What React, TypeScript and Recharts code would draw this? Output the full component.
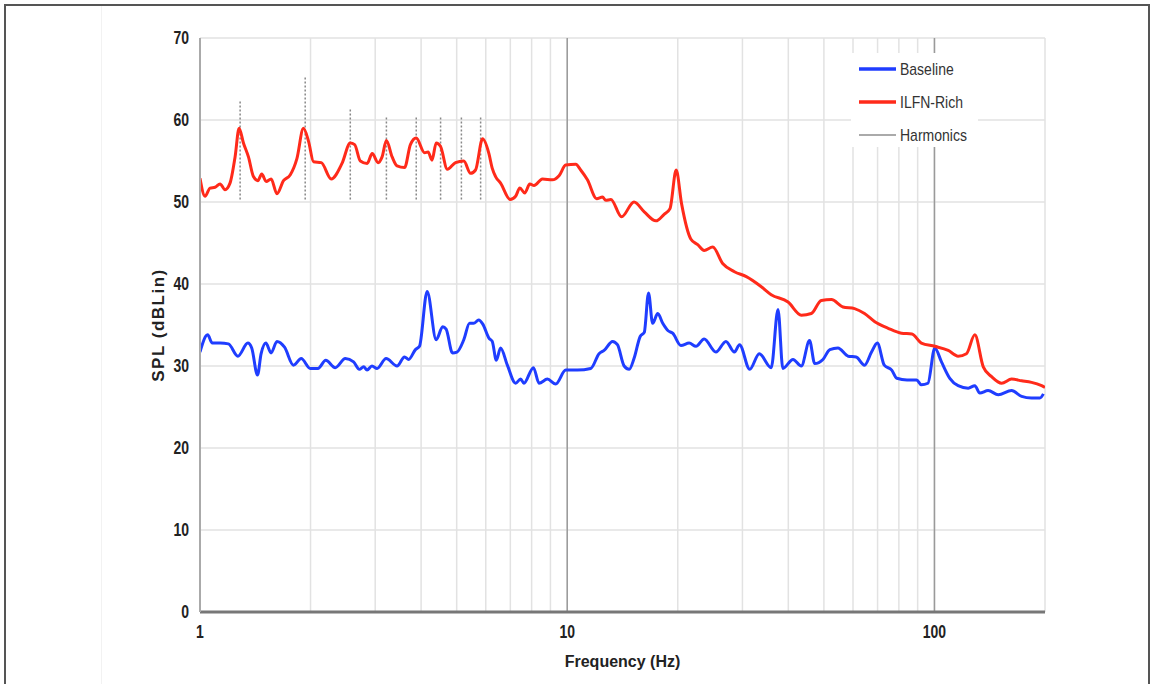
import {
  LineChart,
  Line,
  XAxis,
  YAxis,
  CartesianGrid,
  ReferenceLine,
} from 'recharts';

// Baseline (blue) spectrum
const baselineFreq = [
  1.0, 1.049, 1.08, 1.134, 1.195, 1.268, 1.35, 1.383, 1.434, 1.467,
  1.511, 1.562, 1.62, 1.699, 1.797, 1.886, 1.996, 2.095, 2.2, 2.335,
  2.487, 2.62, 2.716, 2.79, 2.85, 2.94, 3.035, 3.212, 3.44, 3.606,
  3.7, 3.861, 3.96, 4.155, 4.397, 4.58, 4.68, 4.87, 5.01, 5.228,
  5.42, 5.56, 5.74, 5.89, 6.12, 6.25, 6.41, 6.585, 6.87, 7.235,
  7.466, 7.62, 8.09, 8.38, 8.83, 9.303, 9.906, 10.66, 11.59, 12.21,
  12.6, 13.29, 13.7, 14.29, 14.75, 15.2, 15.8, 16.21, 16.65, 17.08,
  17.64, 18.2, 18.82, 19.37, 20.4, 21.48, 22.42, 23.6, 25.4, 27.05,
  28.53, 29.46, 31.4, 33.34, 35.93, 37.5, 38.65, 41.2, 43.4, 45.7,
  47.2, 49.7, 51.9, 54.6, 58.2, 61.2, 64.5, 67.4, 69.9, 73.0,
  76.5, 79.0, 84.2, 89.4, 92.1, 96.0, 100.2, 104.5, 110.1, 116,
  123.6, 128.8, 132.9, 140, 149.2, 162.2, 172.7, 183.8, 193.7, 198,
];
const baselineSpl = [
  31.7, 33.8, 32.8, 32.8, 32.7, 31.2, 32.8, 32.2, 28.9, 31.5,
  32.8, 31.6, 33.0, 32.3, 30.1, 30.9, 29.7, 29.7, 30.7, 29.8,
  30.9, 30.5, 29.6, 29.9, 29.5, 30.0, 29.7, 30.9, 30.0, 31.1,
  30.8, 32.0, 32.4, 39.1, 33.2, 34.8, 34.5, 31.6, 31.7, 33.2,
  35.2, 35.2, 35.6, 35.1, 33.4, 33.0, 30.7, 32.2, 30.1, 27.9,
  28.4, 27.9, 29.8, 27.9, 28.4, 27.8, 29.5, 29.5, 29.7, 31.5,
  31.9, 33.0, 32.6, 30.0, 29.6, 30.9, 33.6, 34.1, 38.9, 35.2,
  36.4, 35.2, 34.3, 34.0, 32.5, 32.8, 32.4, 33.3, 31.7, 33.0,
  31.7, 32.6, 29.6, 31.5, 29.8, 36.9, 29.7, 30.8, 30.0, 33.1,
  30.3, 30.8, 32.0, 32.2, 31.2, 31.1, 30.1, 31.7, 32.8, 30.1,
  29.5, 28.5, 28.3, 28.3, 27.7, 27.9, 32.2, 30.5, 28.5, 27.6,
  27.3, 27.6, 26.7, 27.0, 26.5, 27.0, 26.3, 26.1, 26.1, 26.6,
];

// ILFN-Rich (red) spectrum
const ilfnFreq = [
  1.0, 1.032, 1.065, 1.099, 1.134, 1.17, 1.207, 1.246, 1.278, 1.313,
  1.355, 1.398, 1.437, 1.473, 1.514, 1.562, 1.62, 1.688, 1.76, 1.836,
  1.913, 1.975, 2.038, 2.139, 2.277, 2.436, 2.566, 2.637, 2.733, 2.852,
  2.944, 3.055, 3.132, 3.218, 3.336, 3.44, 3.606, 3.741, 3.879, 4.09,
  4.18, 4.284, 4.397, 4.517, 4.715, 4.964, 5.228, 5.454, 5.628, 5.88,
  6.12, 6.25, 6.381, 6.585, 6.99, 7.235, 7.43, 7.66, 7.91, 8.12,
  8.56, 9.11, 9.5, 9.906, 10.55, 10.88, 11.35, 12.03, 12.48, 12.73,
  13.15, 14.06, 15.2, 16.21, 17.44, 18.36, 19.05, 19.8, 20.48, 21.7,
  22.66, 23.6, 24.9, 26.5, 28.53, 30.74, 33.7, 35.93, 39.93, 43.4,
  46.2, 49.2, 52.4, 56.35, 60.6, 64.5, 68.8, 74.8, 81.3, 86.8,
  92.1, 100.2, 109, 116, 122.2, 128.8, 135.8, 143.1, 152.4, 162.2,
  172.7, 183.8, 195.8, 200,
];
const ilfnSpl = [
  52.9, 50.7, 51.7, 51.8, 52.2, 51.5, 52.3, 55.5, 59.0, 57.2,
  55.5, 53.1, 52.6, 53.4, 52.5, 52.8, 51.0, 52.6, 53.3, 55.3,
  59.0, 57.4, 54.9, 54.8, 52.8, 54.7, 57.2, 57.0, 55.0, 54.7,
  55.9, 54.8, 55.5, 57.5, 55.5, 54.4, 54.2, 57.0, 57.8, 56.0,
  56.1, 55.1, 57.2, 56.8, 54.0, 54.8, 55.0, 53.5, 53.9, 57.7,
  55.9, 54.1, 53.1, 52.3, 50.3, 50.7, 51.7, 51.1, 52.2, 52.0,
  52.8, 52.7, 53.2, 54.5, 54.6, 53.9, 52.7, 50.4, 50.6, 50.2,
  50.3, 48.2, 50.0, 48.8, 47.7, 48.5, 49.2, 53.9, 49.8, 45.5,
  44.8, 44.1, 44.5, 42.5, 41.5, 40.9, 39.7, 38.7, 37.8, 36.2,
  36.4, 38.0, 38.1, 37.2, 37.0, 36.4, 35.4, 34.6, 34.0, 33.9,
  32.8, 32.4, 31.9, 31.2, 31.5, 33.8, 29.9, 28.7, 27.9, 28.4,
  28.2, 28.0, 27.6, 27.4,
];

// harmonic markers
const harmonicFreq = [1.286, 1.934, 2.566, 3.218, 3.88, 4.52, 5.15, 5.81];
const harmonicTop = [62.3, 65.4, 61.4, 60.3, 60.3, 60.3, 60.3, 60.3];
const harmonicBase = 50.3;

const xTicks = [
  1, 2, 3, 4, 5, 6, 7, 8, 9, 10, 20, 30, 40, 50, 60, 70, 80, 90, 100, 200,
];
const xLabels = [1, 10, 100];
const yTicks = [0, 10, 20, 30, 40, 50, 60, 70];

const BLUE = '#1f3dff';
const RED = '#ff2a1a';
const HARM = '#888';

const legendItems = [
  { name: 'Baseline', color: BLUE, width: 3.5 },
  { name: 'ILFN-Rich', color: RED, width: 3.5 },
  { name: 'Harmonics', color: '#aaa', width: 2 },
];

const baselineData = baselineFreq.map((f, i) => ({ f, spl: baselineSpl[i] }));
const ilfnData = ilfnFreq.map((f, i) => ({ f, spl: ilfnSpl[i] }));

const FONT = '"Liberation Sans", Arial, Helvetica, sans-serif';

// tick text is drawn a bit taller than wide, like the source image
function XTick({ x, y, payload }: any) {
  const v = payload.value;
  if (!xLabels.includes(v)) return null;
  return (
    <g transform={`translate(${x},${y + 6}) scale(1,1.25)`}>
      <text textAnchor="middle" dy="0.71em" fill="#222" fontSize={14} fontWeight={700} fontFamily={FONT}>
        {v}
      </text>
    </g>
  );
}

function YTick({ x, y, payload }: any) {
  return (
    <g transform={`translate(${x},${y}) scale(1,1.25)`}>
      <text textAnchor="end" dy="0.355em" fill="#222" fontSize={14} fontWeight={700} fontFamily={FONT}>
        {payload.value}
      </text>
    </g>
  );
}

function ChartLegend() {
  return (
    <div
      style={{
        position: 'absolute',
        left: 851,
        top: 53,
        background: '#fff',
        width: 127,
        height: 94,
        fontFamily: FONT,
        fontSize: 14,
        color: '#333',
      }}
    >
      {legendItems.map((it, i) => (
        <div
          key={it.name}
          style={{
            position: 'absolute',
            left: 8,
            top: 16 + i * 33 - 9,
            height: 18,
            display: 'flex',
            alignItems: 'center',
            whiteSpace: 'nowrap',
          }}
        >
          <svg width={37} height={6}>
            <line x1={0} y1={3} x2={37} y2={3} stroke={it.color} strokeWidth={it.width} />
          </svg>
          <span style={{ marginLeft: 4, display: 'inline-block', transform: 'scaleY(1.15)' }}>
            {it.name}
          </span>
        </div>
      ))}
    </div>
  );
}

export default function App() {
  return (
    <div
      style={{
        position: 'absolute',
        left: 0,
        top: 0,
        width: 1155,
        height: 684,
        overflow: 'hidden',
        background: '#fff',
      }}
    >
      <div
        style={{
          position: 'absolute',
          left: 4,
          top: 4,
          width: 1142,
          height: 720,
          border: '2px solid #555',
        }}
      />
      <div
        style={{
          position: 'absolute',
          left: 101,
          top: 6,
          width: 1,
          height: 680,
          background: '#f2f2f2',
        }}
      />
      <div style={{ position: 'absolute', left: 0, top: 0 }}>
        <LineChart
          width={1155}
          height={684}
          margin={{ top: 38, right: 110, bottom: 40, left: 130 }}
        >
          <CartesianGrid stroke="#e2e2e2" strokeWidth={1.5} />
          <XAxis
            dataKey="f"
            type="number"
            scale="log"
            domain={[1, 200]}
            allowDataOverflow
            ticks={xTicks}
            interval={0}
            tick={<XTick />}
            tickLine={false}
            height={32}
            axisLine={{ stroke: '#777', strokeWidth: 3 }}
            label={{
              value: 'Frequency (Hz)',
              position: 'bottom',
              offset: 12,
              style: { fill: '#222', fontSize: 16, fontWeight: 700, fontFamily: FONT },
            }}
          />
          <YAxis
            type="number"
            domain={[0, 70]}
            ticks={yTicks}
            interval={0}
            width={70}
            tickLine={false}
            tickMargin={5}
            axisLine={{ stroke: '#aaa', strokeWidth: 2 }}
            tick={<YTick />}
            label={{
              value: 'SPL (dBLin)',
              angle: -90,
              position: 'center',
              dx: -7,
              style: {
                fill: '#222',
                fontSize: 17,
                fontWeight: 700,
                fontFamily: FONT,
                letterSpacing: 1.5,
              },
            }}
          />
          <ReferenceLine x={10} stroke="#9a9a9a" strokeWidth={1.5} />
          <ReferenceLine x={100} stroke="#9a9a9a" strokeWidth={1.5} />
          {harmonicFreq.map((f, i) => (
            <ReferenceLine
              key={'h' + i}
              segment={[
                { x: f, y: harmonicBase },
                { x: f, y: harmonicTop[i] },
              ]}
              stroke={HARM}
              strokeWidth={1.5}
              strokeDasharray="2 2"
            />
          ))}
          <Line
            data={baselineData}
            dataKey="spl"
            name="Baseline"
            type="monotone"
            stroke={BLUE}
            strokeWidth={3}
            dot={false}
            isAnimationActive={false}
            strokeLinejoin="round"
          />
          <Line
            data={ilfnData}
            dataKey="spl"
            name="ILFN-Rich"
            type="monotone"
            stroke={RED}
            strokeWidth={3}
            dot={false}
            isAnimationActive={false}
            strokeLinejoin="round"
          />
        </LineChart>
      </div>
      <ChartLegend />
    </div>
  );
}
